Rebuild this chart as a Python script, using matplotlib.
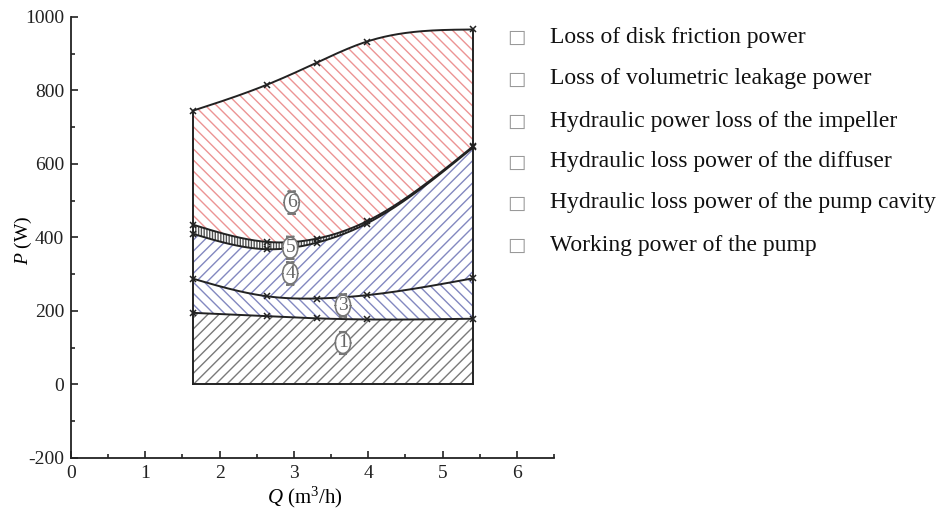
import numpy as np
import matplotlib
matplotlib.use("Agg")
import matplotlib.pyplot as plt
from matplotlib.ticker import MultipleLocator

# ---------------- data ----------------
Q = [1.64, 2.64, 3.31, 3.98, 5.41]
curve1 = [195, 186, 180, 177, 179]     # top of region 1
curve3 = [288, 240, 234, 243, 289]     # top of region 3
curve4 = [410, 368, 386, 438, 645]     # top of region 4
curve5 = [435, 388, 397, 444, 648]     # top of region 5
curve6 = [745, 816, 876, 933, 966]     # top of region 6 (total)

legend_labels = [
    "Loss of disk friction power",
    "Loss of volumetric leakage power",
    "Hydraulic power loss of the impeller",
    "Hydraulic loss power of the diffuser",
    "Hydraulic loss power of the pump cavity",
    "Working power of the pump",
]
region_labels = ["6", "5", "4", "3", "1"]
region_label_pos = [(2.97, 495), (2.95, 372), (2.95, 302), (3.66, 215), (3.66, 113)]

xticks = [0, 1, 2, 3, 4, 5, 6]
yticks = [-200, 0, 200, 400, 600, 800, 1000]

# ---------------- helpers ----------------
def natural_spline(x, y, n=200):
    x = np.asarray(x, float); y = np.asarray(y, float)
    k = len(x); h = np.diff(x)
    A = np.zeros((k, k)); b = np.zeros(k)
    A[0, 0] = A[-1, -1] = 1
    for i in range(1, k - 1):
        A[i, i - 1] = h[i - 1]; A[i, i] = 2 * (h[i - 1] + h[i]); A[i, i + 1] = h[i]
        b[i] = 3 * ((y[i + 1] - y[i]) / h[i] - (y[i] - y[i - 1]) / h[i - 1])
    c = np.linalg.solve(A, b)
    xs = np.linspace(x[0], x[-1], n)
    ys = np.empty_like(xs)
    for j, xv in enumerate(xs):
        i = min(np.searchsorted(x, xv, side="right") - 1, k - 2)
        bi = (y[i + 1] - y[i]) / h[i] - h[i] * (2 * c[i] + c[i + 1]) / 3
        di = (c[i + 1] - c[i]) / (3 * h[i])
        t = xv - x[i]
        ys[j] = y[i] + bi * t + c[i] * t ** 2 + di * t ** 3
    return xs, ys

plt.rcParams["font.family"] = ["Liberation Serif", "DejaVu Serif"]
plt.rcParams["axes.unicode_minus"] = False
plt.rcParams["mathtext.fontset"] = "custom"
plt.rcParams["mathtext.rm"] = "Liberation Serif"
plt.rcParams["mathtext.it"] = "Liberation Serif:italic"
plt.rcParams["hatch.linewidth"] = 1.0

fig = plt.figure(figsize=(9.49, 5.13), dpi=100)
ax = fig.add_axes([71 / 949, 1 - 458 / 513, (554 - 71) / 949, (458 - 17) / 513])

xs, s1 = natural_spline(Q, curve1)
_, s3 = natural_spline(Q, curve3)
_, s4 = natural_spline(Q, curve4)
_, s5 = natural_spline(Q, curve5)
_, s6 = natural_spline(Q, curve6)
zero = np.zeros_like(xs)

gray = "#7a7a7a"
blue = "#8388c0"
red = "#ec9494"

ax.fill_between(xs, zero, s1, facecolor="white", edgecolor=gray, hatch="///", linewidth=0)
ax.fill_between(xs, s1, s3, facecolor="white", edgecolor=blue, hatch="\\\\\\", linewidth=0)
ax.fill_between(xs, s3, s4, facecolor="white", edgecolor=blue, hatch="///", linewidth=0)
ax.fill_between(xs, s4, s5, facecolor="white", edgecolor="#555555", hatch="||||||", linewidth=0)
ax.fill_between(xs, s5, s6, facecolor="white", edgecolor=red, hatch="\\\\\\", linewidth=0)

for s, c in [(s1, curve1), (s3, curve3), (s4, curve4), (s5, curve5), (s6, curve6)]:
    ax.plot(xs, s, color="#222222", lw=1.4, zorder=3)
    ax.plot(Q, c, linestyle="none", marker="x", ms=5, mew=1.1, color="#222222", zorder=4)

# enclosing outline
ax.plot([Q[0], Q[0]], [0, curve6[0]], color="#222222", lw=1.4, zorder=3)
ax.plot([Q[-1], Q[-1]], [0, curve6[-1]], color="#222222", lw=1.4, zorder=3)
ax.plot([Q[0], Q[-1]], [0, 0], color="#222222", lw=1.4, zorder=3)

for lab, (qx, py) in zip(region_labels, region_label_pos):
    ax.text(qx, py, lab, ha="center", va="center", fontsize=14, color="#666666", zorder=5,
            bbox=dict(boxstyle="round,pad=0.14,rounding_size=0.6", fc="white", ec="#777777", lw=1.2))

ax.set_xlim(0, 6.5)
ax.set_ylim(-200, 1000)
ax.set_xticks(xticks)
ax.set_yticks(yticks)
ax.xaxis.set_minor_locator(MultipleLocator(0.5))
ax.yaxis.set_minor_locator(MultipleLocator(100))
ax.tick_params(which="both", direction="in", labelsize=14, colors="#222222", width=1.2)
ax.tick_params(which="major", length=5, pad=5)
ax.tick_params(which="minor", length=3)
for sp in ["top", "right"]:
    ax.spines[sp].set_visible(False)
for sp in ["left", "bottom"]:
    ax.spines[sp].set_linewidth(1.3)
    ax.spines[sp].set_color("#222222")

ax.set_xlabel(r"$Q$ (m$^3$/h)", fontsize=15)
ax.set_ylabel(r"$P$ (W)", fontsize=14)
ax.xaxis.set_label_coords((305 - 71) / 483, (458 - 497) / 441)
ax.yaxis.set_label_coords((23 - 71) / 483, (458 - 240) / 441)
ax.xaxis.label.set_va("center")
ax.yaxis.label.set_va("center")

# legend text (boxes rendered as glyphs)
ys_leg = [37, 79, 121, 162, 203, 245]
for lab, yp in zip(legend_labels, ys_leg):
    fig.text(516 / 949, 1 - yp / 513, "\u25a1", ha="center", va="center", fontsize=14,
             color="#999999", family=["DejaVu Sans"])
    fig.text(550 / 949, 1 - yp / 513, lab, ha="left", va="center", fontsize=17, color="#111111")

fig.savefig("out.png", dpi=100)
